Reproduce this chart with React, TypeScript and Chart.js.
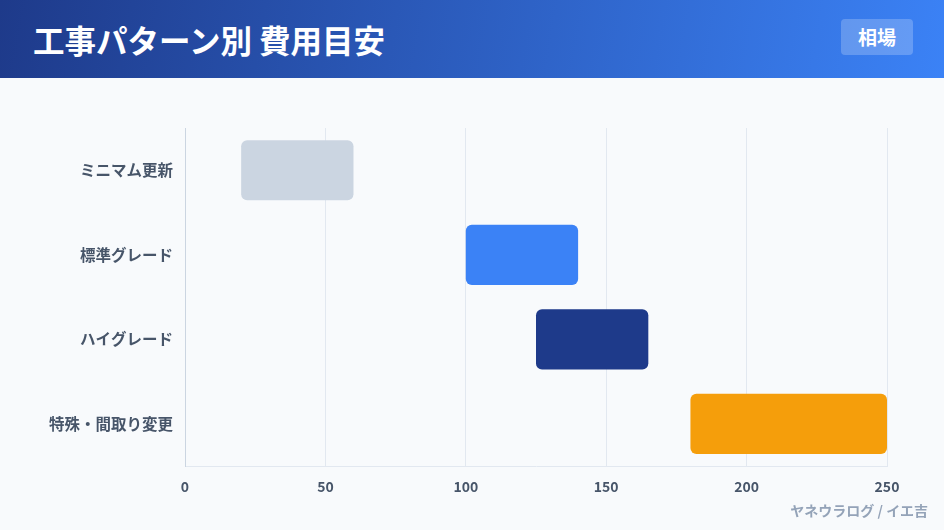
import React, { useEffect, useRef } from "react";
import { Chart, registerables } from "chart.js";

Chart.register(...registerables);

const categories = ["ミニマム更新", "標準グレード", "ハイグレード", "特殊・間取り変更"];
const lowValues = [20, 100, 125, 180];
const highValues = [60, 140, 165, 250];
const barColors = ["#cbd5e1", "#3b82f6", "#1e3a8a", "#f59e0b"];
const xTicks = [0, 50, 100, 150, 200, 250];

const FONT = "'Noto Sans CJK JP', 'Noto Sans', sans-serif";

export default function App() {
  const ref = useRef<HTMLCanvasElement | null>(null);

  useEffect(() => {
    document.body.style.margin = "0";
    document.body.style.background = "#f8fafc";
    if (!ref.current) return;
    const chart = new Chart(ref.current, {
      type: "bar",
      data: {
        labels: categories,
        datasets: [
          {
            data: categories.map((_, i) => [lowValues[i], highValues[i]]) as any,
            backgroundColor: barColors,
            borderRadius: 6,
            borderSkipped: false,
            barPercentage: 0.8,
            categoryPercentage: 0.89,
          },
        ],
      },
      options: {
        indexAxis: "y",
        animation: false,
        responsive: false,
        maintainAspectRatio: false,
        layout: { padding: { top: 50, right: 57, bottom: 23, left: 0 } },
        plugins: { legend: { display: false }, tooltip: { enabled: false } },
        scales: {
          x: {
            type: "linear",
            min: 0,
            max: 250,
            afterBuildTicks: (scale: any) => {
              scale.ticks = xTicks.map((v) => ({ value: v }));
            },
            grid: { color: "#e2e8f0", drawTicks: false },
            border: { color: "#e2e8f0" },
            ticks: {
              padding: 12,
              color: "#475569",
              font: { family: FONT, size: 14, weight: "bold" },
            },
          },
          y: {
            afterFit: (scale: any) => {
              scale.width = 185;
            },
            grid: { display: false, drawTicks: false },
            border: { color: "#cbd5e1" },
            ticks: {
              padding: 12,
              color: "#475569",
              font: { family: FONT, size: 15.5, weight: "bold" },
            },
          },
        },
      },
    });
    return () => chart.destroy();
  }, []);

  return (
    <div style={{ width: 944, height: 530, position: "relative", background: "#f8fafc", overflow: "hidden", fontFamily: FONT }}>
      <div
        style={{
          position: "absolute",
          left: 0,
          top: 0,
          width: 944,
          height: 78,
          background: "linear-gradient(100deg, #1e3a8a 0%, #3b82f6 100%)",
        }}
      >
        <div
          style={{
            position: "absolute",
            left: 33,
            top: 18,
            color: "#ffffff",
            fontSize: 31.5,
            fontWeight: 700,
            lineHeight: "42px",
            letterSpacing: 0,
          }}
        >
          工事パターン別 費用目安
        </div>
        <div
          style={{
            position: "absolute",
            left: 841,
            top: 19,
            width: 72,
            height: 36,
            borderRadius: 4,
            background: "rgba(255,255,255,0.22)",
            color: "#ffffff",
            fontSize: 19,
            fontWeight: 700,
            lineHeight: "36px",
            textAlign: "center",
          }}
        >
          相場
        </div>
      </div>
      <canvas ref={ref} width={944} height={452} style={{ position: "absolute", left: 0, top: 78, width: 944, height: 452 }} />
      <div
        style={{
          position: "absolute",
          right: 16,
          top: 499,
          color: "#94a3b8",
          fontSize: 14,
          fontWeight: 700,
          lineHeight: "22px",
        }}
      >
        ヤネウラログ / イエ吉
      </div>
    </div>
  );
}
